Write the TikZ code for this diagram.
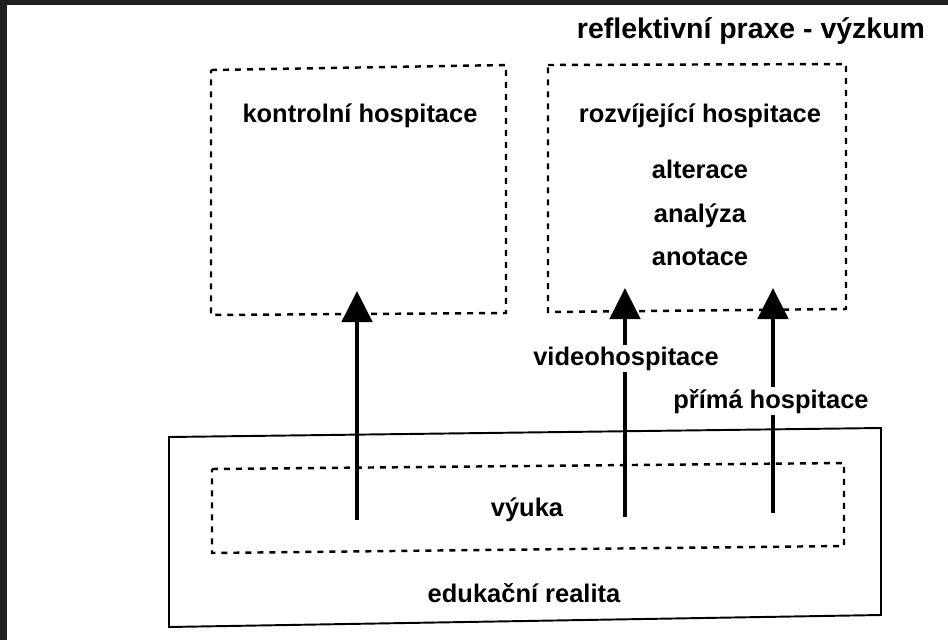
\documentclass[tikz,border=0pt]{standalone}
\usepackage{fontspec}
\setmainfont{Liberation Sans}
\usetikzlibrary{arrows.meta}

\begin{document}
\begin{tikzpicture}[x=0.02cm, y=-0.02cm,
    popis/.style={font=\bfseries\fontsize{14.5}{17}\selectfont, anchor=base},
    tecky/.style={line width=1.4pt, dash pattern=on 0.12cm off 0.12cm},
    sipka/.style={line width=2.8pt, -{Triangle[width=0.6cm,length=0.62cm]}}]
% okraj skenu
\fill[black!88] (0,0) rectangle (948,640);
\fill[white] (7,5) rectangle (948,640);
\useasboundingbox (0,0) rectangle (948,640);

% nadpis
\node[popis, font=\bfseries\fontsize{16.2}{19}\selectfont] (nadpis) at (751,38) {reflektivní praxe - výzkum};

% horní rámečky
\draw[tecky] (211,70) -- (506,65) -- (506,313) -- (211,315) -- cycle;
\draw[tecky] (548,65) -- (846,64) -- (846,309) -- (548,312) -- cycle;
\node[popis] (kontrolni) at (360,122) {kontrolní hospitace};
\node[popis] (rozvijejici) at (700,122) {rozvíjející hospitace};
\node[popis] (alterace) at (700,178) {alterace};
\node[popis] (analyza) at (700,222) {analýza};
\node[popis] (anotace) at (700,265) {anotace};

% dolní rámečky
\draw[line width=1.1pt] (169,437) -- (881,428) -- (881,615) -- (169,627) -- cycle;
\draw[tecky] (212,469) -- (844,463) -- (844,546) -- (212,553) -- cycle;
\node[popis] (vyuka) at (527,516) {výuka};
\node[popis] (realita) at (524,602) {edukační realita};

% šipky z výuky nahoru
\foreach \jm/\x/\zdola/\nahore in {a/357/520/291, b/625/517/288, c/773/513/288} {
    \coordinate (\jm-start) at (\x,\zdola);
    \coordinate (\jm-cil) at (\x,\nahore);
}
\draw[sipka] (a-start) -- (a-cil);
\draw[sipka] (b-start) -- (b-cil);
\draw[sipka] (c-start) -- (c-cil);

% popisky na šipkách
\node[popis, fill=white, inner sep=1pt] (video) at (626,365) {videohospitace};
\node[popis, fill=white, inner sep=1pt] (prima) at (771,408) {přímá hospitace};

\end{tikzpicture}
\end{document}
